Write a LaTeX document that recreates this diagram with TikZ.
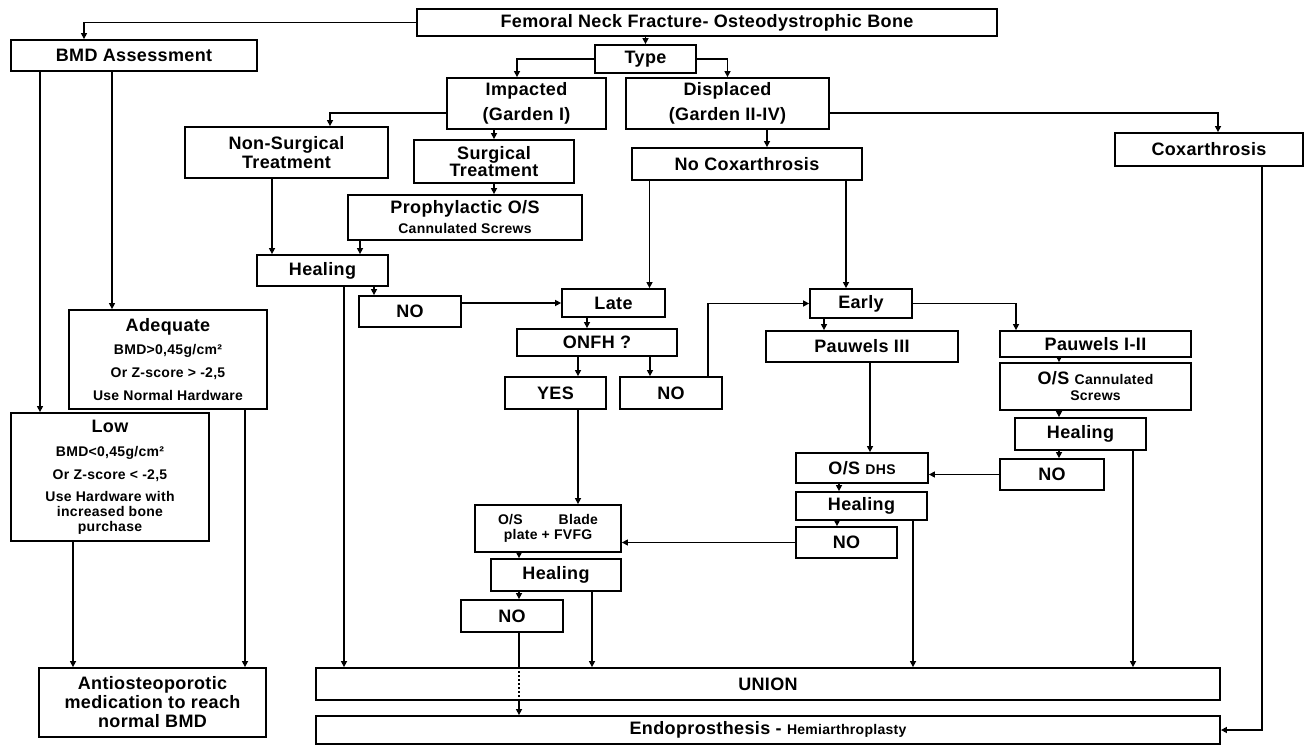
\documentclass[tikz,border=0pt]{standalone}
\usepackage{fontspec}
\setmainfont{Liberation Sans}[LetterSpace=2]
\usetikzlibrary{arrows.meta}

\newcommand{\smtxt}{\fontsize{14}{15}\selectfont}

\begin{document}
\begin{tikzpicture}[x=1pt, y=-1pt,
    box/.style={draw, line width=1.8pt, inner sep=1pt, align=center, font=\fontsize{18}{19}\selectfont\bfseries},
    sz/.style 2 args={minimum width=#1pt, minimum height=#2pt},
    arr/.style={line width=1.4pt, -{Triangle[length=6pt, width=6pt]}},
    ln/.style={line width=1.4pt}]

    \useasboundingbox (0,0) rectangle (1306,746);

    \node[box, sz={580}{27}] (frac) at (707,22.5) {Femoral Neck Fracture- Osteodystrophic Bone};
    \node[box, sz={246}{31}] (bmd) at (134,55.5) {BMD Assessment};
    \node[box, sz={101}{28}] (type) at (645.5,59) {Type};
    \node[box, sz={159}{51}] (imp) at (526.5,103.5) {Impacted\\[6pt](Garden I)};
    \node[box, sz={203}{51}] (disp) at (727.5,103.5) {Displaced\\[6pt](Garden II-IV)};
    \node[box, sz={203}{51}] (nonsurg) at (286.5,152.5) {Non-Surgical\\Treatment};
    \node[box, sz={160}{43}] (surg) at (494,161.5) {Surgical\\[-2pt]Treatment};
    \node[box, sz={188}{33}] (coxa) at (1209,149.5) {Coxarthrosis};
    \node[box, sz={230}{32}] (nocox) at (747,164) {No Coxarthrosis};
    \node[box, sz={234}{45}] (proph) at (465,217.5) {Prophylactic O/S\\[1pt]{\smtxt Cannulated Screws}};
    \node[box, sz={131}{31}] (heal1) at (322.5,270.5) {Healing};
    \node[box, sz={102}{31}] (no1) at (410,311.5) {NO};
    \node[box, sz={103}{28}] (late) at (613.5,303) {Late};
    \node[box, sz={160}{27}] (onfh) at (597,342.5) {ONFH ?};
    \node[box, sz={101}{32}] (yes) at (555.5,393) {YES};
    \node[box, sz={102}{32}] (no2) at (671,393) {NO};
    \node[box, sz={102}{29}] (early) at (861,303.5) {Early};
    \node[box, sz={192}{31}] (pauw3) at (862,346.5) {Pauwels III};
    \node[box, sz={191}{26}] (pauw12) at (1095.5,344) {Pauwels I-II};
    \node[box, sz={191}{47}] (oscann) at (1095.5,386.5) {O/S {\smtxt Cannulated}\\[-3pt]{\smtxt Screws}};
    \node[box, sz={131}{32}] (heal4) at (1080.5,434) {Healing};
    \node[box, sz={104}{31}] (no4) at (1052,474.5) {NO};
    \node[box, sz={132}{30}] (osdhs) at (862,468) {O/S {\smtxt DHS}};
    \node[box, sz={131}{28}] (heal3) at (861.5,506) {Healing};
    \node[box, sz={101}{31}] (no3) at (846.5,542.5) {NO};
    \node[box, sz={146}{47}, font=\smtxt\bfseries] (blade) at (548,528.5) {O/S\hspace{36pt}Blade\\plate + FVFG};
    \node[box, sz={130}{32}] (heal2) at (556,575) {Healing};
    \node[box, sz={102}{32}] (no5) at (512,616) {NO};
    \node[box, sz={904}{32}] (union) at (768,684) {UNION};
    \node[box, sz={904}{28}] (endo) at (768,730) {Endoprosthesis - {\smtxt Hemiarthroplasty}};
    \node[box, sz={198}{99}] (adeq) at (168,359.5) {Adequate\\[4pt]{\smtxt BMD>0,45g/cm²}\\[4pt]{\smtxt Or Z-score > -2,5}\\[4pt]{\smtxt Use Normal Hardware}};
    \node[box, sz={198}{128}] (low) at (110,477) {Low\\[5pt]{\smtxt BMD<0,45g/cm²}\\[4pt]{\smtxt Or Z-score < -2,5}\\[3pt]{\smtxt Use Hardware with}\\[-4pt]{\smtxt increased bone}\\[-4pt]{\smtxt purchase}};
    \node[box, sz={227}{69}] (anti) at (152.5,702.5) {Antiosteoporotic\\medication to reach\\normal BMD};

    \draw [arr] (frac.west) -| ([xshift=-50pt]bmd.north);
    \draw [arr] (type.north |- frac.south) -- (type.north);
    \draw [arr] (type.west) -| ([xshift=-9.5pt]imp.north);
    \draw [arr] (type.east) -| (disp.north);
    \draw [arr] ([yshift=-9.5pt]imp.west) -| ([xshift=43.5pt]nonsurg.north);
    \draw [arr] (surg.north |- imp.south) -- (surg.north);
    \draw [arr] (surg.south) -- (surg.south |- proph.north);
    \draw [arr] ([yshift=-9.5pt]disp.east) -| ([xshift=9pt]coxa.north);
    \draw [arr] ([xshift=20pt]nocox.north |- disp.south) -- ([xshift=20pt]nocox.north);
    \draw [arr, line width=2.6pt] ([xshift=53pt]coxa.south) |- (endo.east);

    \draw [arr] ([xshift=-105pt]proph.south) -- ([xshift=-105pt]proph.south |- heal1.north);
    \draw [arr] ([xshift=-14.5pt]nonsurg.south) -- ([xshift=-14.5pt]nonsurg.south |- heal1.north);
    \draw [arr] ([xshift=51.5pt]heal1.south) -- ([xshift=51.5pt]heal1.south |- no1.north);
    \draw [arr] ([xshift=21.5pt]heal1.south) -- ([xshift=21.5pt]heal1.south |- union.north);
    \draw [arr] (no1.east |- late.west) -- (late.west);

    \draw [arr] ([xshift=36pt]late.north |- nocox.south) -- ([xshift=36pt]late.north);
    \draw [arr] ([xshift=-15pt]early.north |- nocox.south) -- ([xshift=-15pt]early.north);
    \draw [arr] ([xshift=-26.5pt]late.south) -- ([xshift=-26.5pt]late.south |- onfh.north);
    \draw [arr] ([xshift=22.5pt]yes.north |- onfh.south) -- ([xshift=22.5pt]yes.north);
    \draw [arr] ([xshift=-21pt]no2.north |- onfh.south) -- ([xshift=-21pt]no2.north);
    \draw [arr] ([xshift=37pt]no2.north) |- (early.west);

    \draw [arr] ([xshift=-37pt]early.south) -- ([xshift=-37pt]early.south |- pauw3.north);
    \draw [arr] (early.east) -| ([xshift=-79.5pt]pauw12.north);
    \draw [arr] ([xshift=-36.5pt]pauw12.south) -- ([xshift=-36.5pt]pauw12.south |- oscann.north);
    \draw [arr] ([xshift=-21.5pt]heal4.north |- oscann.south) -- ([xshift=-21.5pt]heal4.north);
    \draw [arr] ([xshift=7pt]no4.north |- heal4.south) -- ([xshift=7pt]no4.north);
    \draw [arr] ([xshift=52.5pt]heal4.south) -- ([xshift=52.5pt]heal4.south |- union.north);
    \draw [arr] (no4.west) -- (no4.west -| osdhs.east);

    \draw [arr] ([xshift=8pt]pauw3.south) -- ([xshift=8pt]pauw3.south |- osdhs.north);
    \draw [arr] ([xshift=-22.5pt]heal3.north |- osdhs.south) -- ([xshift=-22.5pt]heal3.north);
    \draw [arr] ([xshift=-9.5pt]no3.north |- heal3.south) -- ([xshift=-9.5pt]no3.north);
    \draw [arr] ([xshift=51.5pt]heal3.south) -- ([xshift=51.5pt]heal3.south |- union.north);
    \draw [arr] (no3.west) -- (no3.west -| blade.east);

    \draw [arr] ([xshift=22.5pt]yes.south) -- ([xshift=22.5pt]yes.south |- blade.north);
    \draw [arr] ([xshift=-37pt]heal2.north |- blade.south) -- ([xshift=-37pt]heal2.north);
    \draw [arr] ([xshift=7pt]no5.north |- heal2.south) -- ([xshift=7pt]no5.north);
    \draw [arr] ([xshift=36pt]heal2.south) -- ([xshift=36pt]heal2.south |- union.north);
    \draw [ln] ([xshift=7pt]no5.south) -- ([xshift=7pt]no5.south |- union.north);
    \draw [ln, dash pattern=on 2pt off 2pt] ([xshift=7pt]no5.south |- union.north) -- ([xshift=7pt]no5.south |- union.south);
    \draw [arr] ([xshift=7pt]no5.south |- union.south) -- ([xshift=7pt]no5.south |- endo.north);

    \draw [arr] ([xshift=-70pt]low.north |- bmd.south) -- ([xshift=-70pt]low.north);
    \draw [arr] ([xshift=-56pt]adeq.north |- bmd.south) -- ([xshift=-56pt]adeq.north);
    \draw [arr] ([xshift=77pt]adeq.south) -- ([xshift=77pt]adeq.south |- anti.north);
    \draw [arr] ([xshift=-37pt]low.south) -- ([xshift=-37pt]low.south |- anti.north);

\end{tikzpicture}
\end{document}
